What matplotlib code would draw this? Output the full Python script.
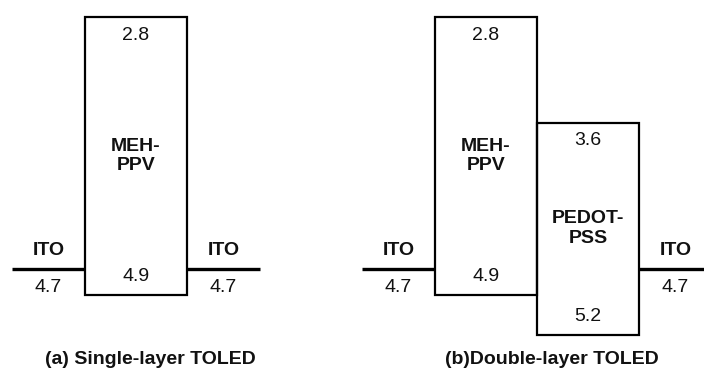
import matplotlib
matplotlib.use("Agg")
from matplotlib import pyplot as plt
from matplotlib.patches import Rectangle

plt.rcParams['font.family'] = ['Liberation Sans', 'DejaVu Sans']

# energy levels (eV)
ito = 4.7
names_a = ["MEH-\nPPV"]
lumo_a = [2.8]
homo_a = [4.9]

names_b = ["MEH-\nPPV", "PEDOT-\nPSS"]
lumo_b = [2.8, 3.6]
homo_b = [4.9, 5.2]

titles = ["(a) Single-layer TOLED", "(b)Double-layer TOLED"]

FS = 14

fig = plt.figure(figsize=(7.04, 3.74), dpi=100)
ax = fig.add_axes([0, 0, 1, 1])
ax.set_xlim(0, 704)
ax.set_ylim(2.672 + 374 / 132.4, 2.672)   # energy goes down
ax.axis('off')

LEAD = 73    # length of ITO line
W = 102      # box width


def label(x, y, txt, dy, bold=False):
    ax.annotate(txt, xy=(x, y), xytext=(0, dy), textcoords='offset points',
                ha='center', va='center', fontsize=FS,
                fontweight='bold' if bold else 'normal', color='#111111')


def ito_line(x):
    ax.plot([x, x + LEAD], [ito, ito], color='black', lw=2.4, solid_capstyle='butt')
    label(x + LEAD / 2, ito, "ITO", 13, bold=True)
    label(x + LEAD / 2, ito, "{:.1f}".format(ito), -14)


def draw_panel(x0, names, lumo, homo, title, title_x):
    ito_line(x0)
    x = x0 + LEAD
    for name, lu, ho in zip(names, lumo, homo):
        ax.add_patch(Rectangle((x, lu), W, ho - lu, fill=False, ec='black', lw=1.6))
        label(x + W / 2, lu, "{:.1f}".format(lu), -13)
        label(x + W / 2, ho, "{:.1f}".format(ho), 13)
        ax.text(x + W / 2, (lu + ho) / 2, name, ha='center', va='center',
                fontsize=FS, fontweight='bold', linespacing=1.2, color='#111111')
        x += W
    ito_line(x)
    fig.text(title_x / 704, 1 - 360 / 374, title, ha='center', va='center',
             fontsize=FS, fontweight='bold', color='#111111')


draw_panel(12, names_a, lumo_a, homo_a, titles[0], 150)
draw_panel(362, names_b, lumo_b, homo_b, titles[1], 552)

fig.savefig("out.png", dpi=100)
